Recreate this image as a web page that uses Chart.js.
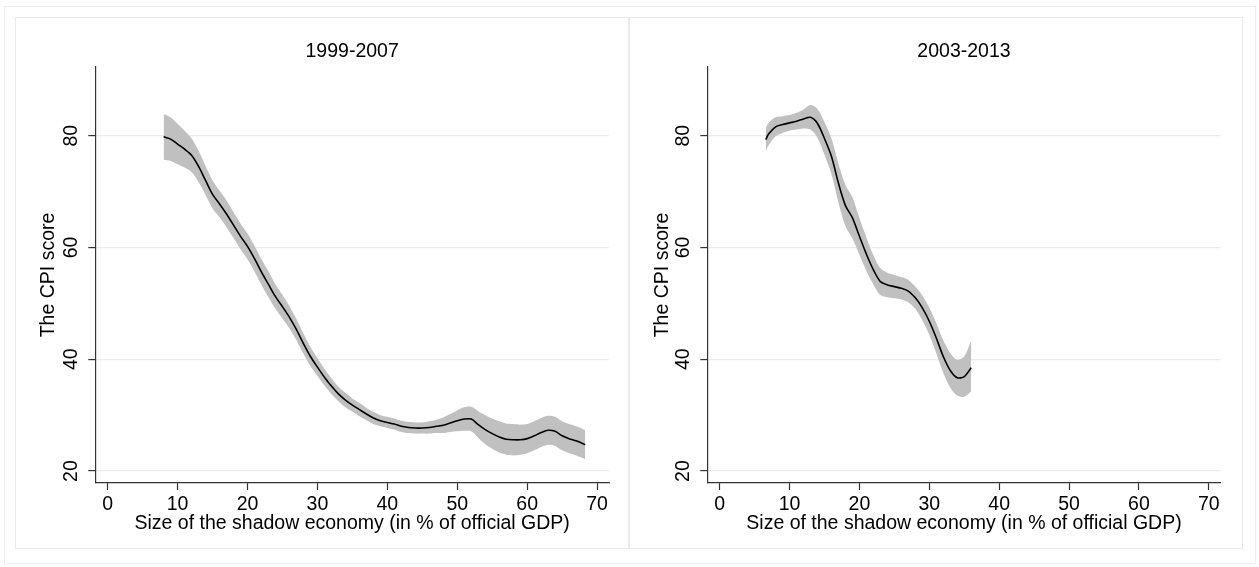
<!DOCTYPE html>
<html>
<head>
<meta charset="utf-8">
<script src="https://cdn.jsdelivr.net/npm/chart.js@4"></script>
<style>
  body { margin: 0; background: #fff; }
  .frame { position: absolute; left: 4px; top: 6px; width: 1250px; height: 556px; border: 1px solid #eeeeee; }
  .panel { position: absolute; top: 17px; width: 614px; height: 532px; box-sizing: border-box; border: 1px solid #eaeaea; }
</style>
</head>
<body>
<div class="frame"></div>
<div class="panel" style="left:15px"><canvas id="left"></canvas></div>
<div class="panel" style="left:629px"><canvas id="right"></canvas></div>

<script>
  // tick labels
  const xTicks = [0, 10, 20, 30, 40, 50, 60, 70];
  const yTicks = [20, 40, 60, 80];

  // 1999-2007 panel
  const leftX = [8, 9, 10, 11, 12, 13, 14, 15, 16, 17, 18, 19, 20, 21, 22, 23, 24, 25, 26, 27, 28, 29, 30,
    31, 32, 33, 34, 35, 36, 37, 38, 39, 40, 41, 42, 43, 44, 45, 46, 47, 48, 49, 50, 51, 52, 53, 54, 55,
    56, 57, 58, 59, 60, 61, 62, 63, 64, 65, 66, 67, 68, 68.3];
  const leftMean = [79.8, 79.4, 78.5, 77.6, 76.5, 74.5, 72.0, 69.5, 67.8, 66.0, 64.0, 62.0, 60.2, 58.0, 55.6,
    53.4, 51.2, 49.4, 47.5, 45.3, 42.8, 40.5, 38.6, 36.8, 35.2, 33.8, 32.7, 31.8, 31.0, 30.2, 29.5, 29.0,
    28.7, 28.4, 28.0, 27.8, 27.7, 27.7, 27.8, 28.0, 28.2, 28.6, 29.0, 29.3, 29.3, 28.3, 27.4, 26.7, 26.1,
    25.7, 25.6, 25.6, 25.8, 26.3, 26.9, 27.3, 27.1, 26.3, 25.8, 25.4, 24.9, 24.7];
  const leftUpper = [83.9, 83.3, 82.1, 80.9, 79.5, 77.3, 74.6, 72.0, 70.2, 68.4, 66.3, 64.3, 62.5, 60.3, 57.9,
    55.7, 53.4, 51.5, 49.5, 47.2, 44.6, 42.2, 40.2, 38.3, 36.6, 35.1, 34.0, 33.0, 32.2, 31.3, 30.6, 30.0,
    29.7, 29.4, 29.0, 28.8, 28.7, 28.7, 28.9, 29.2, 29.6, 30.2, 30.9, 31.4, 31.5, 30.7, 30.0, 29.4, 28.9,
    28.5, 28.4, 28.3, 28.4, 28.9, 29.5, 29.9, 29.7, 28.9, 28.4, 28.0, 27.5, 27.3];
  const leftLower = [75.7, 75.5, 74.9, 74.3, 73.5, 71.7, 69.4, 67.0, 65.4, 63.6, 61.7, 59.7, 57.9, 55.7, 53.3,
    51.1, 49.0, 47.3, 45.5, 43.4, 41.0, 38.8, 37.0, 35.3, 33.8, 32.5, 31.4, 30.6, 29.8, 29.1, 28.4, 28.0,
    27.7, 27.4, 27.0, 26.8, 26.7, 26.7, 26.7, 26.8, 26.8, 27.0, 27.1, 27.2, 27.1, 25.9, 24.8, 24.0, 23.3,
    22.9, 22.8, 22.9, 23.2, 23.7, 24.3, 24.7, 24.5, 23.7, 23.2, 22.8, 22.3, 22.1];

  // 2003-2013 panel
  const rightX = [6.6, 7, 8, 9, 10, 11, 12, 13, 14, 15, 16, 17, 18, 19, 20, 21, 22, 23, 24, 25, 26, 27, 28,
    29, 30, 31, 32, 33, 34, 35, 36];
  const rightMean = [79.3, 80.3, 81.6, 82.0, 82.3, 82.6, 83.0, 83.3, 82.2, 79.5, 76.3, 71.5, 67.5, 65.3, 62.0,
    58.8, 56.0, 53.9, 53.3, 53.0, 52.7, 52.2, 51.0, 49.2, 46.8, 43.8, 40.5, 38.0, 36.7, 36.9, 38.5];
  const rightUpper = [81.4, 82.3, 83.3, 83.5, 83.7, 84.1, 84.7, 85.5, 84.8, 82.4, 79.5, 75.0, 71.2, 69.0, 65.3,
    61.8, 58.6, 56.3, 55.5, 55.1, 54.7, 54.2, 53.0, 51.4, 49.2, 46.5, 43.4, 41.1, 39.9, 40.5, 43.4];
  const rightLower = [77.2, 78.3, 79.9, 80.5, 80.9, 81.1, 81.3, 81.1, 79.6, 76.6, 73.1, 68.0, 63.8, 61.6, 58.7,
    55.8, 53.4, 51.5, 51.1, 50.9, 50.7, 50.2, 49.0, 47.0, 44.4, 41.1, 37.6, 34.9, 33.5, 33.3, 34.3];

  Chart.defaults.font.family = "'Liberation Sans', Arial, sans-serif";
  Chart.defaults.font.size = 19.5;
  Chart.defaults.color = "#111";

  function pts(xs, ys) {
    return xs.map((x, i) => ({ x: x, y: ys[i] }));
  }

  function makePanel(id, title, xs, mean, upper, lower, axisWidth, padRight) {
    const ctx = document.getElementById(id).getContext("2d");
    return new Chart(ctx, {
      type: "line",
      data: {
        datasets: [
          {
            // fitted line, drawn on top
            data: pts(xs, mean),
            borderColor: "#000",
            borderWidth: 1.6,
            pointRadius: 0,
            fill: false,
            tension: 0.3,
            order: 0,
          },
          {
            data: pts(xs, lower),
            borderWidth: 0,
            pointRadius: 0,
            fill: false,
            tension: 0.3,
            order: 1,
          },
          {
            data: pts(xs, upper),
            borderWidth: 0,
            pointRadius: 0,
            backgroundColor: "#c0c0c0",
            fill: "-1",
            tension: 0.3,
            order: 2,
          },
        ],
      },
      options: {
        responsive: true,
        maintainAspectRatio: false,
        animation: false,
        layout: { padding: { left: 0, right: padRight, top: 0, bottom: 0 } },
        plugins: {
          legend: { display: false },
          tooltip: { enabled: false },
          title: {
            display: true,
            fullSize: false,
            text: title,
            color: "#000",
            font: { size: 19.5, weight: "normal" },
            padding: { top: 21.6, bottom: 4 },
          },
        },
        scales: {
          x: {
            type: "linear",
            min: -1.77,
            max: 71.7,
            afterBuildTicks: (s) => { s.ticks = xTicks.map((v) => ({ value: v })); },
            afterFit: (s) => { s.height = 65; },
            border: { color: "#333", width: 1.2 },
            grid: { drawOnChartArea: false, tickLength: 7, tickColor: "#333", tickWidth: 1.2 },
            ticks: { padding: 3, maxRotation: 0, color: "#000" },
            title: {
              display: true,
              text: "Size of the shadow economy (in % of official GDP)",
              color: "#000",
              padding: { top: 0, bottom: 12.3 },
            },
          },
          y: {
            type: "linear",
            min: 17.86,
            max: 92.3,
            afterBuildTicks: (s) => { s.ticks = yTicks.map((v) => ({ value: v })); },
            afterFit: (s) => { s.width = axisWidth; },
            border: { color: "#333", width: 1.2 },
            grid: { color: "#ececec", lineWidth: 1.2, tickLength: 7, tickColor: "#333", tickWidth: 1.2 },
            ticks: { minRotation: 90, maxRotation: 90, crossAlign: "center", padding: 6, color: "#000" },
            title: {
              display: true,
              text: "The CPI score",
              color: "#000",
              padding: { top: 21.3, bottom: 0 },
            },
          },
        },
      },
    });
  }

  makePanel("left", "1999-2007", leftX, leftMean, leftUpper, leftLower, 79.3, 19);
  makePanel("right", "2003-2013", rightX, rightMean, rightUpper, rightLower, 77.3, 21.3);
</script>
</body>
</html>
